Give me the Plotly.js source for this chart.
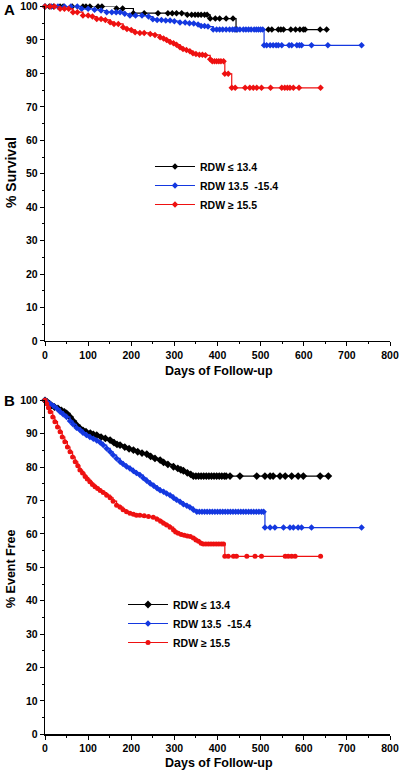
<!DOCTYPE html>
<html>
<head>
<meta charset="utf-8">
<script src="https://cdn.plot.ly/plotly-3.0.1.min.js"></script>
<style>html,body{margin:0;padding:0;background:#fff;}#chart{width:400px;height:771px;}</style>
</head>
<body>
<div id="chart"></div>
<script>
// ---- Data (days, % ) ----
const seriesNames = ["RDW \u2264 13.4", "RDW 13.5  -15.4", "RDW \u2265 15.5"];
const seriesColors = ["#000000", "#1438e0", "#ee1111"];

// Panel A: % Survival
const survLow = [[0,100],[10,100],[20,100],[35,100],[42,100],[63,100],[88,100],[95,100],[104,100],[123,100],[132,100],[166,99.4],[180,99.4],[205,98.0],[230,98.0],[262,98.0],[285,98.0],[295,98.0],[305,98.0],[317,98.0],[330,97.5],[340,97.5],[348,97.5],[355,97.5],[362,97.5],[370,97.5],[376,97.5],[383,96.4],[395,96.4],[405,96.4],[420,96.4],[436,96.4],[443,93.1],[518,93.1],[526,93.1],[541,93.1],[547,93.1],[553,93.1],[570,93.1],[581,93.1],[591,93.1],[599,93.1],[603,93.1],[638,93.1],[653,93.1]];
const survMid = [[0,100],[15,100],[30,100],[45,100],[60,100],[75,100],[85,99.3],[100,99.3],[115,99.0],[130,98.8],[143,98.3],[155,98.3],[165,98.3],[174,98.3],[185,97.8],[197,97.3],[210,97.3],[225,97.3],[240,97.0],[250,96.2],[260,96.0],[270,96.0],[280,95.8],[290,95.8],[300,95.6],[313,95.2],[325,95.2],[335,95.0],[345,94.9],[355,94.6],[362,94.2],[370,94.2],[378,94.0],[390,93.1],[398,93.1],[405,93.1],[412,93.1],[420,93.1],[428,93.1],[435,93.1],[440,93.1],[446,93.1],[452,93.1],[460,93.1],[466,93.1],[472,93.1],[478,93.1],[485,93.1],[490,93.1],[495,93.1],[500,93.1],[505,93.1],[508,88.4],[514,88.4],[522,88.4],[529,88.4],[536,88.4],[541,88.4],[549,88.4],[566,88.4],[572,88.4],[584,88.4],[590,88.4],[595,88.4],[618,88.4],[656,88.4],[734,88.4]];
const survHigh = [[0,100],[12,100],[22,100],[35,99.3],[45,99.3],[55,99.3],[65,98.3],[75,98.3],[88,97.3],[100,97.3],[110,97.0],[120,96.3],[130,96.3],[140,96.0],[151,95.3],[160,94.8],[170,94.8],[181,93.8],[190,93.3],[200,93.0],[209,92.3],[220,92.1],[230,92.1],[244,91.8],[255,91.5],[267,90.8],[275,90.4],[282,90.0],[290,89.4],[298,89.0],[305,88.6],[313,87.8],[320,87.3],[328,87.0],[336,86.6],[343,86.0],[350,85.8],[358,85.6],[365,85.6],[372,85.4],[383,84.2],[388,83.6],[393,83.6],[398,83.6],[403,83.6],[408,83.6],[414,83.6],[417,79.9],[425,79.9],[433,75.7],[441,75.7],[464,75.7],[475,75.7],[483,75.7],[491,75.7],[502,75.7],[523,75.7],[549,75.7],[556,75.7],[562,75.7],[568,75.7],[576,75.7],[589,75.7],[639,75.7]];

// Panel B: % Event Free
const eventLow = [[0,100],[5,99.5],[10,99.0],[15,98.5],[22,98.0],[30,97.6],[38,97.0],[45,96.5],[50,96.1],[58,95.0],[65,93.8],[73,92.6],[81,91.6],[88,91.0],[95,90.6],[105,90.2],[112,89.8],[120,89.6],[130,89.0],[140,88.6],[151,88.1],[160,87.3],[167,86.8],[174,86.6],[185,86.0],[195,85.5],[205,85.1],[215,84.6],[225,84.2],[236,83.9],[245,83.2],[255,82.6],[267,82.1],[275,81.4],[285,80.8],[298,80.1],[308,79.6],[315,79.2],[321,78.9],[330,78.3],[338,77.8],[344,77.3],[350,77.3],[356,77.3],[362,77.3],[368,77.3],[374,77.3],[380,77.3],[386,77.3],[392,77.3],[398,77.3],[404,77.3],[410,77.3],[416,77.3],[420,77.3],[429,77.3],[452,77.3],[491,77.3],[510,77.3],[522,77.3],[529,77.3],[545,77.3],[557,77.3],[572,77.3],[587,77.3],[599,77.3],[638,77.3],[657,77.3]];
const eventMid = [[0,100],[5,99.5],[12,99.0],[20,98.3],[28,97.5],[35,96.6],[42,95.8],[50,95.0],[58,93.8],[65,92.8],[73,91.8],[81,91.1],[88,90.3],[96,89.6],[104,89.0],[112,88.5],[120,88.0],[128,87.4],[135,86.6],[143,85.6],[151,84.6],[158,83.6],[166,82.6],[174,81.6],[181,80.9],[189,80.2],[197,79.6],[205,78.8],[212,78.2],[220,77.6],[228,76.7],[236,75.9],[244,75.1],[252,74.4],[260,73.7],[267,73.1],[275,72.6],[282,72.1],[290,71.6],[298,70.8],[305,70.2],[313,69.6],[321,68.9],[329,68.4],[336,68.0],[344,67.2],[352,66.6],[358,66.6],[364,66.6],[370,66.6],[376,66.6],[382,66.6],[388,66.6],[394,66.6],[400,66.6],[406,66.6],[412,66.6],[418,66.6],[424,66.6],[430,66.6],[436,66.6],[442,66.6],[448,66.6],[454,66.6],[460,66.6],[466,66.6],[472,66.6],[478,66.6],[484,66.6],[490,66.6],[496,66.6],[502,66.6],[507,66.6],[510,61.9],[522,61.9],[533,61.9],[553,61.9],[568,61.9],[576,61.9],[587,61.9],[595,61.9],[618,61.9],[734,61.9]];
const eventHigh = [[0,100],[4,99.0],[8,97.8],[12,96.6],[18,95.0],[23,93.6],[29,92.0],[35,90.6],[40,89.0],[46,87.6],[52,86.0],[58,84.6],[64,83.0],[70,81.6],[76,80.4],[81,79.1],[87,78.2],[93,77.2],[98,76.4],[104,75.6],[110,74.8],[116,74.1],[122,73.6],[128,73.0],[135,72.4],[143,71.6],[151,70.8],[158,69.8],[166,68.6],[174,68.0],[181,67.2],[189,66.6],[197,66.2],[205,65.9],[212,65.6],[220,65.6],[230,65.4],[240,65.2],[251,65.0],[260,64.4],[268,63.8],[275,63.2],[282,62.7],[290,62.0],[298,61.2],[303,60.6],[309,60.2],[316,59.8],[323,59.6],[330,59.4],[337,59.2],[344,58.8],[350,58.2],[356,57.8],[362,57.2],[367,57.0],[373,57.0],[379,57.0],[385,57.0],[391,57.0],[397,57.0],[403,57.0],[409,57.0],[414,57.0],[417,53.3],[425,53.3],[437,53.3],[444,53.3],[468,53.3],[487,53.3],[502,53.3],[557,53.3],[564,53.3],[572,53.3],[580,53.3],[639,53.3]];

const FONT = "'Liberation Sans', Arial, sans-serif";

function trace(data, i, xa, ya, leg, symbol, size) {
  return {
    type: 'scatter', mode: 'lines+markers',
    x: data.map(p => p[0]), y: data.map(p => p[1]),
    xaxis: xa, yaxis: ya, legend: leg,
    name: seriesNames[i],
    line: {color: seriesColors[i], width: 1.2, shape: 'hv'},
    marker: {color: seriesColors[i], symbol: symbol, size: size},
    cliponaxis: false, hoverinfo: 'skip'
  };
}

const traces = [
  trace(survLow, 0, 'x', 'y', 'legend', 'diamond', 5),
  trace(survMid, 1, 'x', 'y', 'legend', 'diamond', 5),
  trace(survHigh, 2, 'x', 'y', 'legend', 'diamond', 5),
  trace(eventLow, 0, 'x2', 'y2', 'legend2', 'diamond', 6),
  trace(eventMid, 1, 'x2', 'y2', 'legend2', 'diamond', 5),
  trace(eventHigh, 2, 'x2', 'y2', 'legend2', 'circle', 5)
];

const tickfont = {family: FONT, size: 10.5, color: '#000', weight: 'bold'};
function xax(anchor) {
  return {anchor: anchor, domain: [0, 1], range: [0, 800], tick0: 0, dtick: 100,
    ticks: 'outside', ticklen: 4, tickwidth: 1, tickcolor: '#000',
    minor: {ticks: 'outside', ticklen: 2, dtick: 50, tickcolor: '#000'},
    showline: true, linecolor: '#000', linewidth: 1.2, showgrid: false, zeroline: false,
    tickfont: tickfont, fixedrange: true};
}
function yax(anchor, dom) {
  return {anchor: anchor, domain: dom, range: [0, 100], tick0: 0, dtick: 10,
    ticks: 'outside', ticklen: 4, tickwidth: 1, tickcolor: '#000',
    minor: {ticks: 'outside', ticklen: 2, dtick: 5, tickcolor: '#000'},
    showline: true, linecolor: '#000', linewidth: 1.2, showgrid: false, zeroline: false,
    tickfont: tickfont, fixedrange: true};
}

const legFont = {family: FONT, size: 10.5, color: '#000', weight: 'bold'};
const layout = {
  width: 400, height: 771,
  margin: {l: 45, r: 10, t: 0, b: 0},
  paper_bgcolor: '#fff', plot_bgcolor: '#fff',
  showlegend: true,
  xaxis: xax('y'), yaxis: yax('x', [0.55772, 0.99157]),
  xaxis2: xax('y2'), yaxis2: yax('x2', [0.04760, 0.48080]),
  legend: {x: 0.3043, y: 0.80285, xanchor: 'left', yanchor: 'top', bgcolor: 'rgba(0,0,0,0)',
    borderwidth: 0, font: legFont, itemwidth: 40, tracegroupgap: 0},
  legend2: {x: 0.2261, y: 0.23476, xanchor: 'left', yanchor: 'top', bgcolor: 'rgba(0,0,0,0)',
    borderwidth: 0, font: legFont, itemwidth: 40, tracegroupgap: 0},
  annotations: [
    {text: 'A', xref: 'paper', yref: 'paper', x: -0.1043, y: 0.98703, xanchor: 'center', yanchor: 'middle', showarrow: false, font: {family: FONT, size: 15, weight: 'bold', color: '#000'}},
    {text: 'B', xref: 'paper', yref: 'paper', x: -0.1043, y: 0.48119, xanchor: 'center', yanchor: 'middle', showarrow: false, font: {family: FONT, size: 15, weight: 'bold', color: '#000'}},
    {text: 'Days of Follow-up', xref: 'paper', yref: 'paper', x: 0.5043, y: 0.51919, xanchor: 'center', yanchor: 'middle', showarrow: false, font: {family: FONT, size: 12.5, weight: 'bold', color: '#000'}},
    {text: 'Days of Follow-up', xref: 'paper', yref: 'paper', x: 0.5043, y: 0.01077, xanchor: 'center', yanchor: 'middle', showarrow: false, font: {family: FONT, size: 12.5, weight: 'bold', color: '#000'}},
    {text: '% Survival', xref: 'paper', yref: 'paper', x: -0.09855, y: 0.77562, xanchor: 'center', yanchor: 'middle', textangle: -90, showarrow: false, font: {family: FONT, size: 14, weight: 'bold', color: '#000'}},
    {text: '% Event Free', xref: 'paper', yref: 'paper', x: -0.09855, y: 0.26200, xanchor: 'center', yanchor: 'middle', textangle: -90, showarrow: false, font: {family: FONT, size: 12.5, weight: 'bold', color: '#000'}}
  ]
};

Plotly.newPlot('chart', traces, layout, {displayModeBar: false, staticPlot: true});
</script>
</body>
</html>
